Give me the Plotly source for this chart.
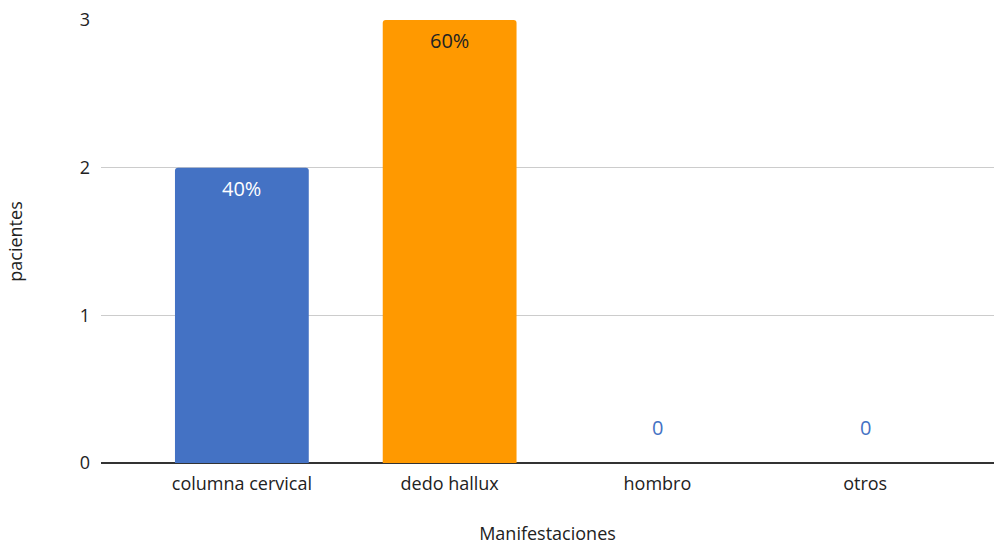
import plotly.graph_objects as go

categories = ["columna cervical", "dedo hallux", "hombro", "otros"]
values = [2, 3, 0, 0]
bar_colors = ["#4472C4", "#FF9900", "#4472C4", "#4472C4"]
label_colors = ["#FFFFFF", "#222222", "#4472C4", "#4472C4"]
y_ticks = [0, 1, 2, 3]

total = sum(values)
FONT = "Open Sans"
FS = 18
LS = 20

fig = go.Figure()
fig.add_trace(go.Bar(
    x=categories, y=values,
    marker=dict(color=bar_colors, line=dict(width=0), cornerradius=3),
    hoverinfo="skip",
))

for cat, v, c in zip(categories, values, label_colors):
    if v > 0:
        txt = f"{round(v / total * 100)}%"
        fig.add_annotation(x=cat, y=v, text=txt, showarrow=False, yanchor="top", yshift=-5,
                           font=dict(family=FONT, size=LS, color=c))
    else:
        fig.add_annotation(x=cat, y=v, text=str(v), showarrow=False, yanchor="bottom", yshift=20,
                           font=dict(family=FONT, size=LS, color=c))

fig.update_layout(
    width=994, height=545,
    margin=dict(l=101, r=0, t=20, b=82),
    paper_bgcolor="white", plot_bgcolor="white",
    bargap=0.356,
    showlegend=False,
    font=dict(family=FONT, size=FS, color="#222222"),
    xaxis=dict(
        range=[-0.678, 3.62],
        showgrid=False, showline=False, zeroline=False,
        ticks="", ticklabelstandoff=8, tickfont=dict(family=FONT, size=FS, color="#222222"),
        title=dict(text="Manifestaciones", standoff=37, font=dict(family=FONT, size=FS, color="#222222")),
    ),
    yaxis=dict(
        range=[0, 3], tickvals=y_ticks, ticktext=[str(t) for t in y_ticks],
        showgrid=True, gridcolor="#CCCCCC", gridwidth=1,
        zeroline=True, zerolinecolor="#333333", zerolinewidth=1.5,
        showline=False, ticks="", ticklabelstandoff=10,
        tickfont=dict(family=FONT, size=FS, color="#222222"),
        title=dict(text="pacientes", standoff=52, font=dict(family=FONT, size=FS, color="#222222")),
    ),
)

fig.write_html("out.html")
